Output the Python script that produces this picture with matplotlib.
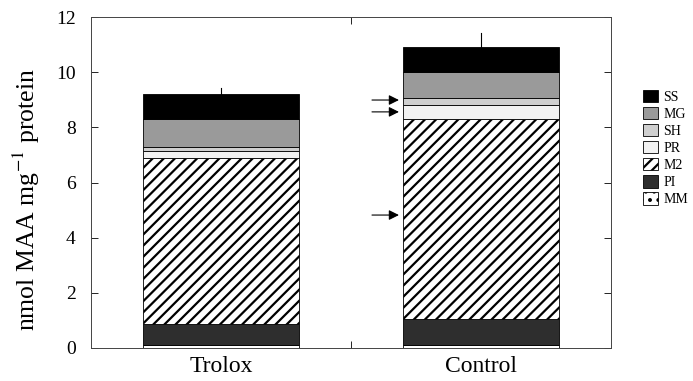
import numpy as np
import matplotlib
matplotlib.use('Agg')
import matplotlib.pyplot as plt
from matplotlib.patches import Patch

plt.rcParams['font.family'] = ['Liberation Serif', 'DejaVu Serif']
plt.rcParams['mathtext.fontset'] = 'stix'
plt.rcParams['hatch.linewidth'] = 1.6

# data (nmol MAA / mg protein)
groups = ['Trolox', 'Control']
components = ['MM', 'PI', 'M2', 'PR', 'SH', 'MG', 'SS']
mm = [0.10, 0.10]
pi = [0.77, 0.95]
m2 = [6.03, 7.25]
pr = [0.25, 0.50]
sh = [0.15, 0.25]
mg = [1.00, 0.95]
ss = [0.90, 0.90]
err = [0.23, 0.52]
arrow_y = [8.99, 8.56, 4.82]

styles = {
    'MM': dict(facecolor='white', hatch='..'),
    'PI': dict(facecolor='#2e2e2e', hatch=''),
    'M2': dict(facecolor='white', hatch='///'),
    'PR': dict(facecolor='#f2f2f2', hatch=''),
    'SH': dict(facecolor='#cfcfcf', hatch=''),
    'MG': dict(facecolor='#9a9a9a', hatch=''),
    'SS': dict(facecolor='black', hatch=''),
}
values = {'MM': mm, 'PI': pi, 'M2': m2, 'PR': pr, 'SH': sh, 'MG': mg, 'SS': ss}

fig = plt.figure(figsize=(6.93, 3.81), dpi=100)
ax = fig.add_axes([91/693, 33/381, 520/693, 331/381])

x = np.arange(len(groups))
bottom = np.zeros(len(groups))
for c in components:
    st = styles[c]
    ax.bar(x, values[c], 0.6, bottom=bottom, facecolor=st['facecolor'],
           hatch=st['hatch'], edgecolor='black', linewidth=0.6)
    bottom += np.array(values[c])

# error bars (upper only)
for xi, top, e in zip(x, bottom, err):
    ax.plot([xi, xi], [top, top + e], color='black', lw=0.8)

# arrows pointing at the control bar
for yy in arrow_y:
    ax.annotate('', xy=(x[1] - 0.305, yy), xytext=(x[1] - 0.43, yy),
                arrowprops=dict(arrowstyle='-|>', color='black', lw=0.8,
                                mutation_scale=15))

ax.set_xlim(-0.5, 1.5)
ax.set_ylim(0, 12)
ax.set_yticks(np.arange(0, 13, 2))
ax.set_xticks([0.5])
ax.set_xticklabels([''])
ax.tick_params(axis='both', direction='in', length=5, width=0.6,
               labelsize=14, top=True, right=True)
ax.tick_params(axis='y', pad=11)
for s in ax.spines.values():
    s.set_linewidth(0.7)
    s.set_color('#444444')

for xi, g in zip(x, groups):
    ax.text(xi, -0.3, g, ha='center', va='top', fontsize=17,
            transform=ax.transData)

ax.set_ylabel('nmol MAA mg$^{-1}$ protein', fontsize=18.5)
ax.yaxis.set_label_coords(-0.094, 0.447)

handles = [Patch(facecolor=styles[c]['facecolor'], hatch=styles[c]['hatch'],
                 edgecolor='black', linewidth=0.6, label=c)
           for c in components[::-1]]
fig.legend(handles=handles, loc='upper left', bbox_to_anchor=(636/693, 1 - 83/381),
           frameon=False, fontsize=10, handlelength=1.1, handleheight=1.0,
           handletextpad=0.35, labelspacing=0.22, borderpad=0)

fig.savefig('out.png', dpi=100)
